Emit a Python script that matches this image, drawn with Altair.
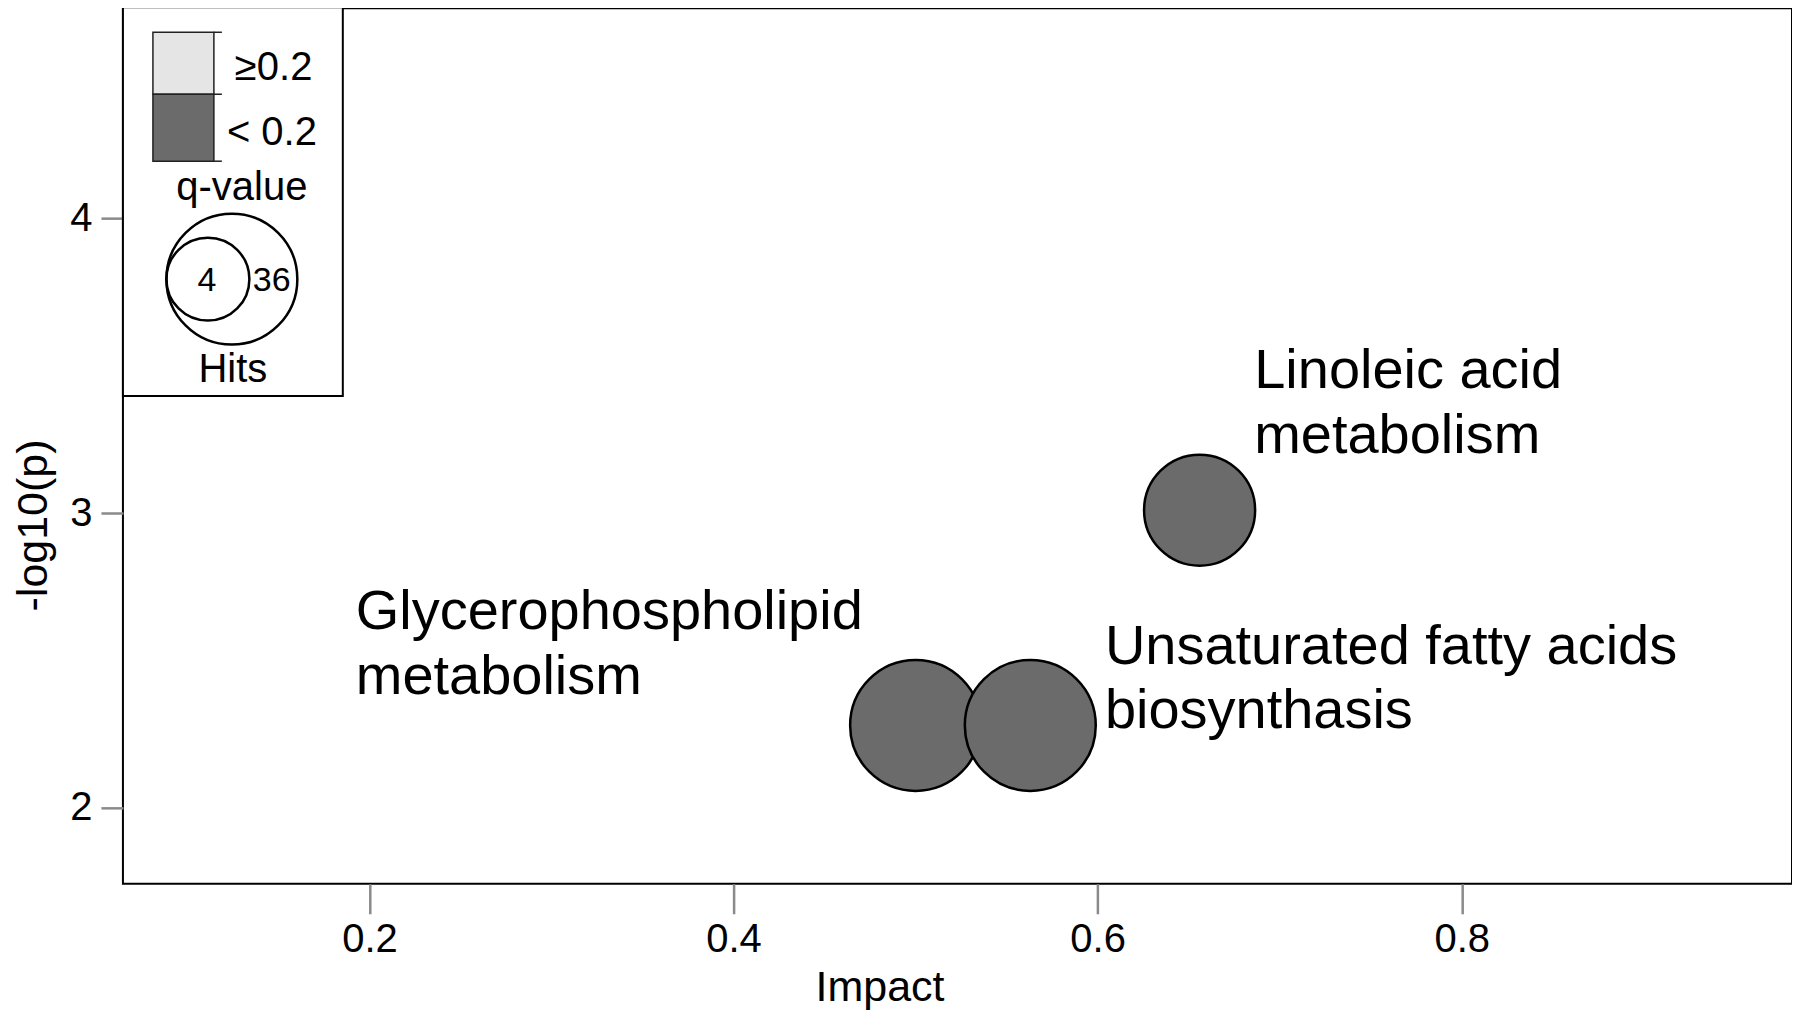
import altair as alt
import pandas as pd

# ---- data ----
pathways = ["Linoleic acid metabolism", "Glycerophospholipid metabolism",
            "Unsaturated fatty acids biosynthasis"]
impact = [0.656, 0.500, 0.563]
neg_log_p = [3.01, 2.28, 2.28]
hits = [21, 36, 36]
q_class = ["< 0.2", "< 0.2", "< 0.2"]

label_text = ["Linoleic acid\nmetabolism", "Glycerophospholipid\nmetabolism",
              "Unsaturated fatty acids\nbiosynthasis"]
label_x = [0.686, 0.1925, 0.604]
label_y = [3.424, 2.607, 2.49]

x_ticks = [0.2, 0.4, 0.6, 0.8]
y_ticks = [2, 3, 4]
x_domain = [0.0646, 0.9814]
y_domain = [1.743, 4.712]

q_levels = ["\u22650.2", "< 0.2"]
q_colors = ["#e5e5e5", "#6b6b6b"]
legend_hits = [36, 4]
hits_domain = [4, 36]

FONT = "Liberation Sans"

pts = pd.DataFrame({"pathway": pathways, "impact": impact, "logp": neg_log_p,
                    "hits": hits, "q": q_class})
labels = pd.DataFrame({"text": label_text, "impact": label_x, "logp": label_y})

xscale = alt.Scale(domain=x_domain, nice=False, zero=False)
yscale = alt.Scale(domain=y_domain, nice=False, zero=False)
size_scale = alt.Scale(domain=hits_domain, range=[6889, 17161])
fill_scale = alt.Scale(domain=q_levels, range=q_colors)

xaxis = alt.Axis(values=x_ticks, format=".1f", title="Impact", grid=False, domain=False,
                 tickSize=30, tickWidth=2.5, tickColor="#8a8a8a", labelFontSize=40,
                 labelPadding=6, labelColor="black", titleFontSize=43,
                 titleFontWeight="normal", titleColor="black", titleX=757, titleY=117,
                 titleAlign="center", titleBaseline="alphabetic")
yaxis = alt.Axis(values=y_ticks, format="d", title="-log10(p)", grid=False, domain=False,
                 tickSize=22, tickWidth=2.5, tickColor="#8a8a8a", labelFontSize=40,
                 labelPadding=9, labelColor="black", titleFontSize=43,
                 titleFontWeight="normal", titleColor="black", titleX=-89, titleY=517,
                 titleAngle=270, titleAlign="center", titleBaseline="middle")

points = alt.Chart(pts).mark_point(shape="circle", filled=True, opacity=1,
                                   stroke="black", strokeWidth=2.5).encode(
    x=alt.X("impact:Q", scale=xscale, axis=xaxis),
    y=alt.Y("logp:Q", scale=yscale, axis=yaxis),
    size=alt.Size("hits:Q", scale=size_scale, legend=None),
    fill=alt.Fill("q:N", scale=fill_scale, legend=None),
    tooltip=["pathway", "impact", "logp", "hits"],
)

text = alt.Chart(labels).mark_text(align="left", baseline="alphabetic", fontSize=56,
                                   lineHeight=65, lineBreak="\n", font=FONT,
                                   color="black").encode(
    x=alt.X("impact:Q", scale=xscale),
    y=alt.Y("logp:Q", scale=yscale),
    text="text:N",
)

one = pd.DataFrame({"k": [0]})

# ---- hand-built legend (top-left inside the plot) ----
legend_layers = []
legend_layers.append(
    alt.Chart(one).mark_rect(fill="white", stroke="black", strokeWidth=2).encode(
        x=alt.value(0), x2=alt.value(220), y=alt.value(-1), y2=alt.value(388)))

box_y = [(24, 86), (86, 153)]
for lev, (y0, y1) in zip(q_levels, box_y):
    legend_layers.append(
        alt.Chart(pd.DataFrame({"q": [lev]})).mark_rect(stroke="#222222", strokeWidth=1.5).encode(
            x=alt.value(30), x2=alt.value(91), y=alt.value(y0), y2=alt.value(y1),
            fill=alt.Fill("q:N", scale=fill_scale, legend=None)))
for yy in [24, 86, 153]:
    legend_layers.append(
        alt.Chart(one).mark_rule(color="#222222", strokeWidth=1.5).encode(
            x=alt.value(91), x2=alt.value(99), y=alt.value(yy)))

for lev, (lx, ly) in zip(q_levels, [(112, 72), (104, 137)]):
    legend_layers.append(
        alt.Chart(pd.DataFrame({"q": [lev]})).mark_text(
            align="left", baseline="alphabetic", fontSize=40, font=FONT, color="black").encode(
            x=alt.value(lx), y=alt.value(ly), text="q:N"))

legend_layers.append(
    alt.Chart(one).mark_text(text="q-value", align="center", baseline="alphabetic",
                             fontSize=40, font=FONT, color="black").encode(
        x=alt.value(119), y=alt.value(192)))

for h, cx in zip(legend_hits, [109, 85]):
    legend_layers.append(
        alt.Chart(pd.DataFrame({"hits": [h]})).mark_point(
            shape="circle", filled=False, opacity=1, color="black", strokeWidth=2.5).encode(
            x=alt.value(cx), y=alt.value(271),
            size=alt.Size("hits:Q", scale=size_scale, legend=None)))

for h, (tx, align) in zip(legend_hits, [(130, "left"), (84, "center")]):
    legend_layers.append(
        alt.Chart(pd.DataFrame({"hits": [str(h)]})).mark_text(
            align=align, baseline="alphabetic", fontSize=34, font=FONT, color="black").encode(
            x=alt.value(tx), y=alt.value(283), text="hits:N"))

legend_layers.append(
    alt.Chart(one).mark_text(text="Hits", align="center", baseline="alphabetic",
                             fontSize=40, font=FONT, color="black").encode(
        x=alt.value(110), y=alt.value(374)))

chart = alt.layer(points, text, *legend_layers).properties(
    width=1670, height=876,
    autosize=alt.AutoSizeParams(type="none"),
    padding={"left": 115, "top": 0, "right": 0, "bottom": 130},
).configure(
    font=FONT, background="white"
).configure_view(stroke="black", strokeWidth=2)

chart.save("out.html", embed_options={"renderer": "svg", "actions": False})
